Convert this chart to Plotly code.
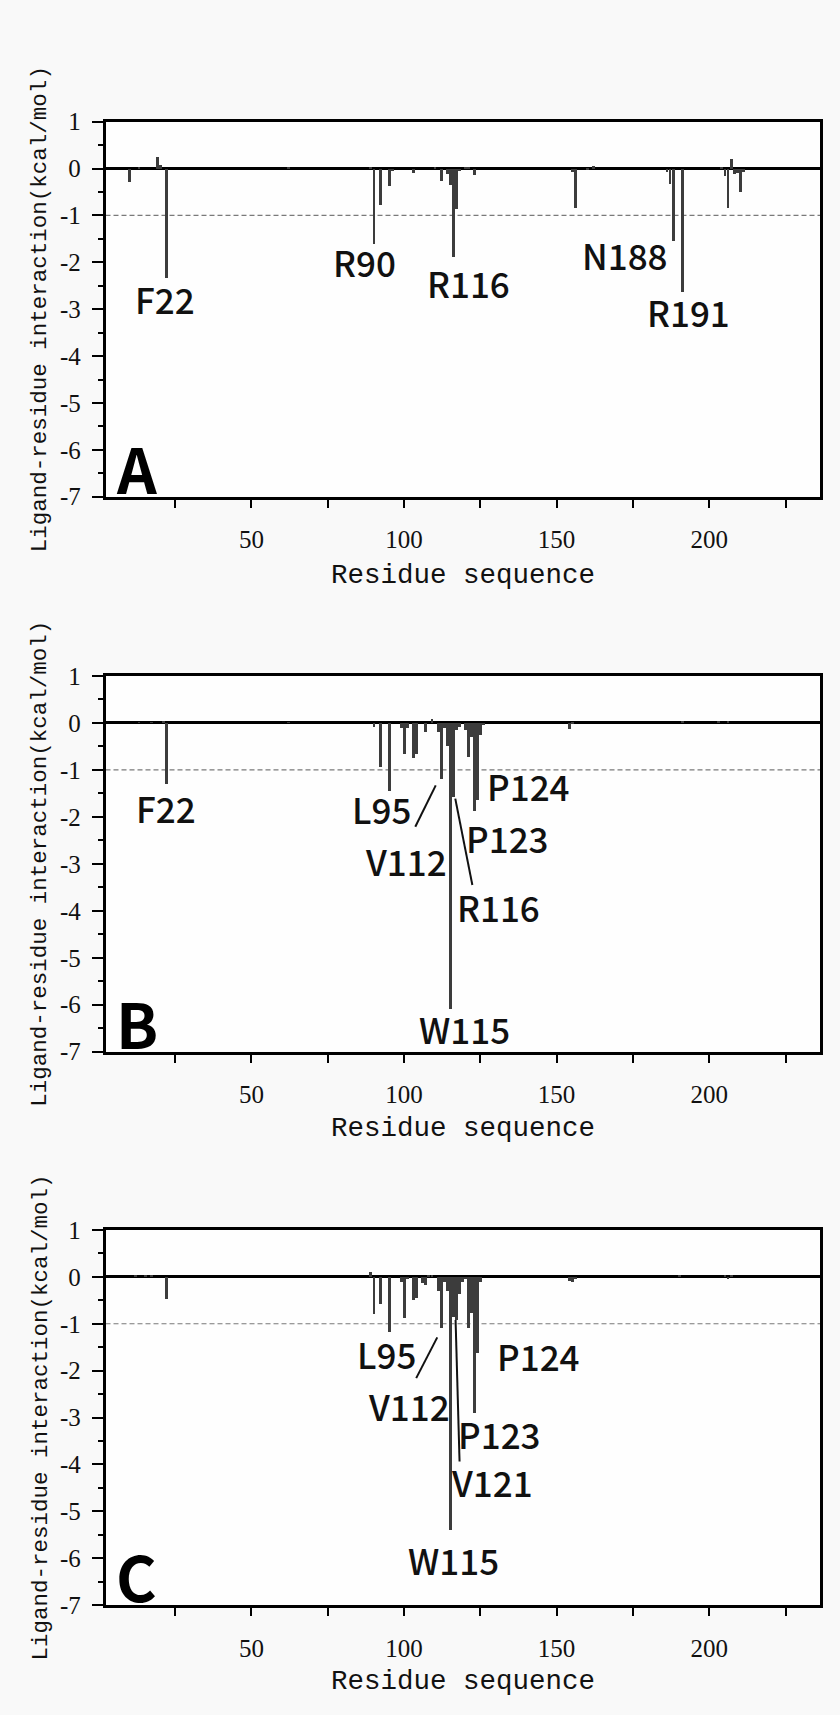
import plotly.graph_objects as go

W, H = 840, 1715

# ---------------- data ----------------
residues_A = [10, 13, 19, 20, 22, 62, 89, 90, 92, 95, 96, 103, 110, 112, 114, 115, 116, 117, 118,
              120, 121, 123, 155, 156, 160, 162, 186, 187, 188, 191, 204, 205, 206, 207, 208, 209, 210, 211]
energy_A = [-0.27, 0.03, 0.26, 0.08, -2.33, 0.03, 0.05, -1.60, -0.78, -0.36, -0.05, -0.08, 0.02, -0.26,
            -0.10, -0.35, -1.87, -0.85, -0.05, 0.03, 0.03, -0.12, -0.07, -0.83, -0.02, 0.07, -0.07, -0.32,
            -1.53, -2.63, 0.03, -0.15, -0.83, 0.21, -0.10, -0.08, -0.50, -0.06]

residues_B = [13, 17, 21, 22, 62, 90, 92, 95, 99, 100, 101, 103, 104, 107, 109, 111, 112, 113, 114, 115,
              116, 117, 118, 120, 121, 122, 123, 124, 125, 126, 154, 155, 191, 203, 206]
energy_B = [0.02, 0.02, 0.03, -1.31, 0.02, -0.08, -0.93, -1.45, -0.10, -0.67, -0.10, -0.74, -0.67, -0.19,
            0.08, -0.20, -1.20, -0.10, -0.50, -6.10, -1.57, -0.15, -0.08, -0.15, -0.72, -0.30, -1.87, -1.63,
            -0.25, -0.05, -0.12, -0.03, 0.03, 0.03, 0.03]

residues_C = [12, 15, 17, 22, 89, 90, 92, 95, 99, 100, 101, 103, 104, 106, 107, 108, 109, 111, 112, 113,
              114, 115, 116, 117, 118, 119, 120, 121, 122, 123, 124, 125, 154, 155, 156, 190, 205, 206, 207]
energy_C = [0.03, 0.03, 0.03, -0.47, 0.10, -0.80, -0.57, -1.17, -0.10, -0.88, -0.05, -0.50, -0.45, -0.12,
            -0.18, 0.05, 0.05, -0.30, -1.09, -0.10, -0.30, -5.40, -0.85, -0.93, -0.37, -0.10, -0.05, -1.10,
            -0.77, -2.91, -1.63, -0.10, -0.08, -0.10, -0.05, 0.02, 0.04, -0.05, 0.03]

labels_A = ["F22", "R90", "R116", "N188", "R191"]
labels_B = ["F22", "L95", "P124", "P123", "V112", "R116", "W115"]
labels_C = ["L95", "P124", "V112", "P123", "V121", "W115"]

y_ticks = [-7, -6, -5, -4, -3, -2, -1, 0, 1]
y_ticktext = ["-7", "-6", "-5", "-4", "-3", "-2", "-1", "0", "1"]
x_ticks = [25, 50, 75, 100, 125, 150, 175, 200, 225]
x_ticktext = ["", "50", "", "100", "", "150", "", "200", ""]

x_title = "Residue sequence"
y_title = "Ligand-residue interaction(kcal/mol)"

# ---------------- layout helpers ----------------
label_pos_A = [(21.6, -2.77), (87.2, -1.98), (121.0, -2.43), (172.3, -1.83), (193.3, -3.04)]
label_pos_B = [(22.0, -1.80), (92.6, -1.82), (140.9, -1.33), (134.0, -2.43), (100.6, -2.92),
               (130.8, -3.91), (119.8, -6.50)]
label_pos_C = [(94.2, -1.64), (144.0, -1.68), (101.8, -2.75), (131.4, -3.34), (128.9, -4.37),
               (116.1, -6.03)]

leaders_A = []
leaders_B = [((110.4, -1.33), (103.7, -2.21)), ((116.8, -1.61), (122.4, -3.45))]
leaders_C = [((110.9, -1.29), (104.0, -2.16)), ((116.9, -0.92), (118.2, -3.94))]

panels = [
    dict(res=residues_A, val=energy_A, top=121.7, bottom=496.7, letter="A",
         labels=labels_A, lpos=label_pos_A, leaders=leaders_A, xt=575.0),
    dict(res=residues_B, val=energy_B, top=676.0, bottom=1051.7, letter="B",
         labels=labels_B, lpos=label_pos_B, leaders=leaders_B, xt=1128.0),
    dict(res=residues_C, val=energy_C, top=1230.0, bottom=1605.0, letter="C",
         labels=labels_C, lpos=label_pos_C, leaders=leaders_C, xt=1681.7),
]

X_LEFT, X_RIGHT = 105.5, 820.0
XRANGE = [2.2, 236.3]

fig = go.Figure()
layout = dict(
    width=W, height=H, autosize=False,
    margin=dict(l=0, r=0, t=0, b=0, pad=0, autoexpand=False),
    paper_bgcolor="#f9f9f9",
    plot_bgcolor="#fefefe",
    showlegend=False,
    bargap=0,
)
shapes = []
annotations = []

label_font = dict(family="Noto Sans CJK SC", size=35, color="#111111", weight=500)

for i, p in enumerate(panels):
    n = "" if i == 0 else str(i + 1)
    xid, yid = "x" + n, "y" + n
    tick_xid = "x" + str(4 + i)
    fig.add_trace(go.Bar(
        x=p["res"], y=p["val"], width=0.95,
        marker=dict(color="#3c3c3c", line=dict(width=0)),
        xaxis=xid, yaxis=yid, hoverinfo="x+y",
    ))
    # empty helper trace so the tick-mark overlay axis is drawn
    fig.add_trace(go.Scatter(x=[], y=[], xaxis=tick_xid, yaxis=yid, hoverinfo="skip",
                             showlegend=False))
    ydom = [1 - p["bottom"] / H, 1 - p["top"] / H]
    layout["xaxis" + n] = dict(
        domain=[X_LEFT / W, X_RIGHT / W], range=XRANGE, anchor=yid, automargin=False,
        tickmode="array", tickvals=x_ticks, ticktext=x_ticktext,
        ticks="", showline=True, linewidth=2.5, linecolor="black", mirror=True,
        showgrid=False, zeroline=False,
        tickfont=dict(family="Liberation Serif", size=25, color="#111111"),
        ticklabelstandoff=19,
    )
    # overlay axis that only draws the outside tick marks
    layout["xaxis" + str(4 + i)] = dict(
        overlaying=xid, anchor=yid, range=XRANGE, automargin=False,
        tickmode="array", tickvals=x_ticks, showticklabels=False,
        ticks="outside", ticklen=10, tickwidth=2, tickcolor="black",
        showline=False, showgrid=False, zeroline=False, side="bottom",
    )
    layout["yaxis" + n] = dict(
        domain=ydom, range=[-7, 1], anchor=xid, automargin=False,
        tickmode="array", tickvals=y_ticks, ticktext=y_ticktext,
        ticks="outside", ticklen=11, tickwidth=2, tickcolor="black",
        minor=dict(dtick=0.5, tick0=0, ticks="outside", ticklen=5, tickwidth=2,
                   tickcolor="black", showgrid=False),
        showline=True, linewidth=2.5, linecolor="black", mirror=True,
        showgrid=False, zeroline=True, zerolinecolor="black", zerolinewidth=2.5,
        tickfont=dict(family="Liberation Serif", size=25, color="#111111"),
        ticklabelstandoff=6,
    )
    # dashed reference line at -1
    shapes.append(dict(type="line", xref=xid + " domain", x0=0, x1=1, yref=yid, y0=-1, y1=-1,
                       line=dict(color="#7a7a7a", width=1.2, dash="5px,3px"), layer="below"))
    # leader lines
    for (a, b) in p["leaders"]:
        shapes.append(dict(type="line", xref=xid, yref=yid, x0=a[0], y0=a[1], x1=b[0], y1=b[1],
                           line=dict(color="#111111", width=2)))
    # residue labels
    for txt, (lx, ly) in zip(p["labels"], p["lpos"]):
        annotations.append(dict(text=txt, x=lx, y=ly, xref=xid, yref=yid, showarrow=False,
                                xanchor="center", yanchor="middle", font=label_font))
    # panel letter
    annotations.append(dict(text="<b>" + p["letter"] + "</b>", x=12.5, y=-6.37, xref=xid, yref=yid,
                            showarrow=False, xanchor="center", yanchor="middle",
                            font=dict(family="Noto Sans CJK SC", size=62, color="#000000")))
    # axis titles
    annotations.append(dict(text=x_title, xref="paper", yref="paper",
                            x=(X_LEFT + X_RIGHT) / 2 / W, y=1 - p["xt"] / H,
                            showarrow=False, xanchor="center", yanchor="middle",
                            font=dict(family="Liberation Mono", size=27.5, color="#111111")))
    annotations.append(dict(text=y_title, xref="paper", yref="paper",
                            x=40 / W, y=1 - (p["top"] + p["bottom"]) / 2 / H,
                            textangle=-90, showarrow=False, xanchor="center", yanchor="middle",
                            font=dict(family="Liberation Mono", size=22.5, color="#111111")))

layout["shapes"] = shapes
layout["annotations"] = annotations
fig.update_layout(**layout)

fig.write_html("out.html", config={"responsive": False})
